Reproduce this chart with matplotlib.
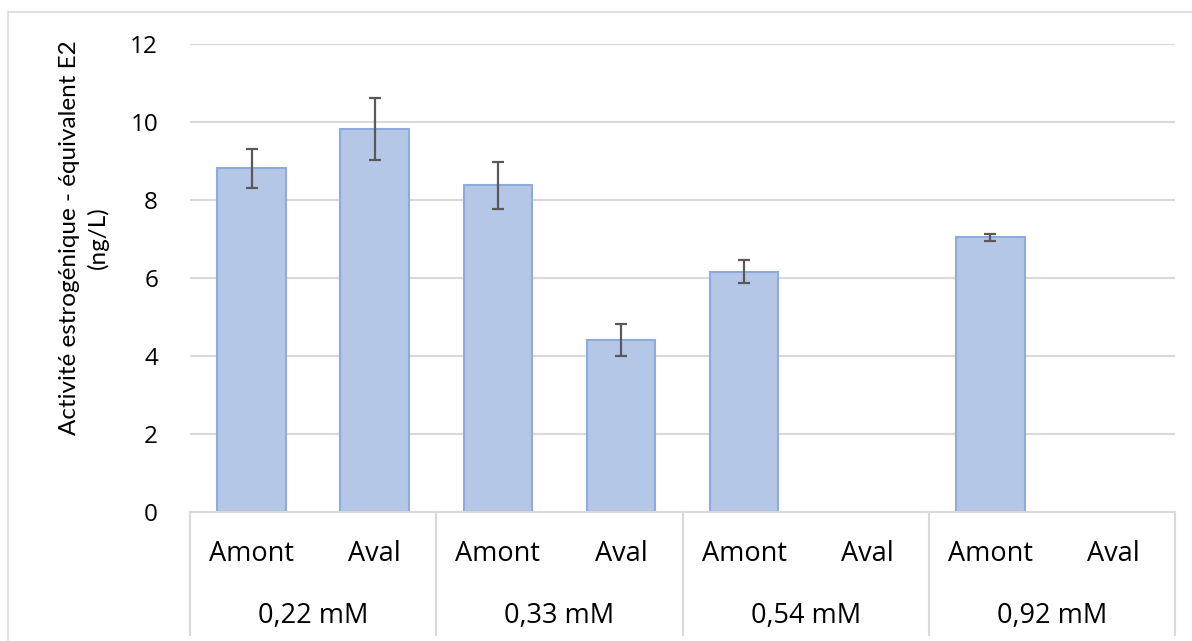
import matplotlib
matplotlib.use("Agg")
import matplotlib.pyplot as plt
import numpy as np
from matplotlib.patches import Rectangle

# Data
groups = ["0,22 mM", "0,33 mM", "0,54 mM", "0,92 mM"]
sub_labels = ["Amont", "Aval"]
values = [8.82, 9.82, 8.38, 4.41, 6.16, np.nan, 7.04, np.nan]
errors = [0.50, 0.80, 0.60, 0.40, 0.29, np.nan, 0.09, np.nan]
y_ticks = [0, 2, 4, 6, 8, 10, 12]
y_label = "Activité estrogénique - équivalent E2\n(ng/L)"

FONT = "Open Sans"
W, H = 1192, 641
fig = plt.figure(figsize=(W / 100, H / 100), dpi=100)

# outer chart border
fig.patches.append(Rectangle((8 / W, -0.05), 1.2, 1 - 12 / H + 0.05, transform=fig.transFigure,
                             fill=False, edgecolor="#d9d9d9", linewidth=1.2))

left, right, top, bottom = 190, 1175, 44, 512
ax = fig.add_axes([left / W, 1 - bottom / H, (right - left) / W, (bottom - top) / H])

x = np.arange(len(values))
ax.bar(x, values, width=0.556, color="#b4c7e7", edgecolor="#8faadc", linewidth=1.5, zorder=3)
ax.errorbar(x, values, yerr=errors, fmt="none", ecolor="#595959", elinewidth=1.6,
            capsize=4.3, capthick=1.6, zorder=4)

ax.set_xlim(-0.5, len(values) - 0.5)
ax.set_ylim(0, 12)
ax.set_yticks(y_ticks)
ax.set_yticklabels([str(t) for t in y_ticks], fontfamily=FONT, fontsize=17.5, color="#000000")
ax.tick_params(axis="y", length=0, pad=23)
ax.set_xticks([])
for s in ax.spines.values():
    s.set_visible(False)
ax.grid(axis="y", color="#d9d9d9", linewidth=1.5, zorder=0)
ax.set_axisbelow(True)

# category table
trans = ax.get_xaxis_transform()
hpx = bottom - top
yb = -(635 - 512) / hpx
ax.plot([-0.5, len(values) - 0.5], [0, 0], transform=trans, color="#d9d9d9", lw=1.5,
        clip_on=False, zorder=5)
for b in np.arange(-0.5, len(values), 2):
    ax.plot([b, b], [0, yb], transform=trans, color="#d9d9d9", lw=1.5, clip_on=False)
for i in range(len(values)):
    ax.text(i, -(554 - 512) / hpx, sub_labels[i % 2], transform=trans,
            ha="center", va="center", fontfamily=FONT, fontsize=19.5)
for g, name in enumerate(groups):
    ax.text(2 * g + 0.5, -(616 - 512) / hpx, name, transform=trans,
            ha="center", va="center", fontfamily=FONT, fontsize=19.5)

fig.text(84 / W, 1 - 238 / H, y_label, rotation=90, ha="center", va="center",
         multialignment="center", fontfamily="Lato", fontsize=17.5, linespacing=1.35)

fig.savefig("out.png", dpi=100)
